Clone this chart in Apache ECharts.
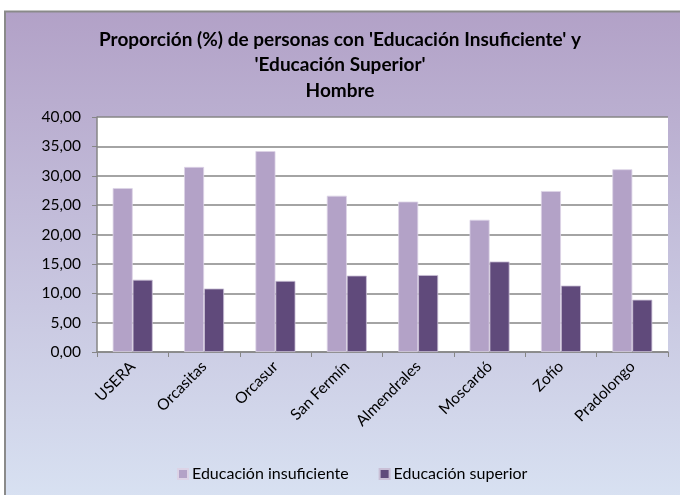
<!DOCTYPE html>
<html>
<head>
<meta charset="utf-8">
<script src="https://cdn.jsdelivr.net/npm/echarts@6/dist/echarts.min.js"></script>
<style>
  html, body { margin: 0; padding: 0; background: #fff; }
  #chart { width: 680px; height: 495px; }
</style>
</head>
<body>
<div id="chart"></div>
<script>
const barrios = ["USERA", "Orcasitas", "Orcasur", "San Fermín", "Almendrales", "Moscardó", "Zofío", "Pradolongo"];
const eduInsuficiente = [27.9, 31.5, 34.2, 26.6, 25.6, 22.5, 27.4, 31.1];
const eduSuperior = [12.3, 10.8, 12.1, 13.0, 13.1, 15.4, 11.3, 8.9];

const font = "Lato, 'Open Sans', sans-serif";
const chart = echarts.init(document.getElementById("chart"));

const option = {
  animation: false,
  textStyle: { fontFamily: font },
  graphic: [
    {
      type: "rect",
      z: -10,
      shape: { x: 5, y: 11.5, width: 690, height: 500 },
      style: {
        fill: new echarts.graphic.LinearGradient(0, 0, 0, 1, [
          { offset: 0, color: "#b2a1c7" },
          { offset: 1, color: "#d9e3f3" }
        ]),
        stroke: "#8a8a8a",
        lineWidth: 2
      }
    }
  ],
  title: {
    text: "Proporción (%) de personas con 'Educación Insuficiente' y\n'Educación Superior'\nHombre",
    left: "center",
    top: 22,
    textStyle: { fontFamily: font, fontSize: 19, fontWeight: "bold", color: "#000", lineHeight: 25.5 }
  },
  legend: {
    bottom: 8,
    left: 172,
    itemWidth: 10,
    itemHeight: 10,
    itemGap: 30,
    icon: "rect",
    textStyle: { fontFamily: font, fontSize: 16, color: "#000", padding: [0, 0, 0, -1] },
    data: ["Educación insuficiente", "Educación superior"]
  },
  grid: { left: 97, right: 12, top: 117, bottom: 143, backgroundColor: "#fff", show: true, borderWidth: 0 },
  xAxis: {
    type: "category",
    data: barrios,
    axisLine: { lineStyle: { color: "#868686", width: 1.5 } },
    axisTick: { show: true, length: 5, lineStyle: { color: "#868686" } },
    axisLabel: { rotate: 45, fontSize: 15.5, color: "#000", margin: 12, fontFamily: font }
  },
  yAxis: {
    type: "value",
    min: 0,
    max: 40,
    interval: 5,
    axisLine: { show: true, lineStyle: { color: "#868686", width: 1.5 } },
    axisTick: { show: true, length: 5, lineStyle: { color: "#868686" } },
    splitLine: { lineStyle: { color: "#868686", width: 1.5 } },
    axisLabel: {
      fontSize: 15.5, color: "#000", margin: 16, fontFamily: font,
      formatter: v => v.toFixed(2).replace(".", ",")
    }
  },
  series: [
    {
      name: "Educación insuficiente",
      type: "bar",
      data: eduInsuficiente,
      barGap: "0%",
      barCategoryGap: "44%",
      itemStyle: { color: "#b3a2c7", borderColor: "#dcd3e6", borderWidth: 0.8 }
    },
    {
      name: "Educación superior",
      type: "bar",
      data: eduSuperior,
      itemStyle: { color: "#604a7b", borderColor: "#c9bfd6", borderWidth: 0.8 }
    }
  ]
};

chart.setOption(option);
</script>
</body>
</html>
